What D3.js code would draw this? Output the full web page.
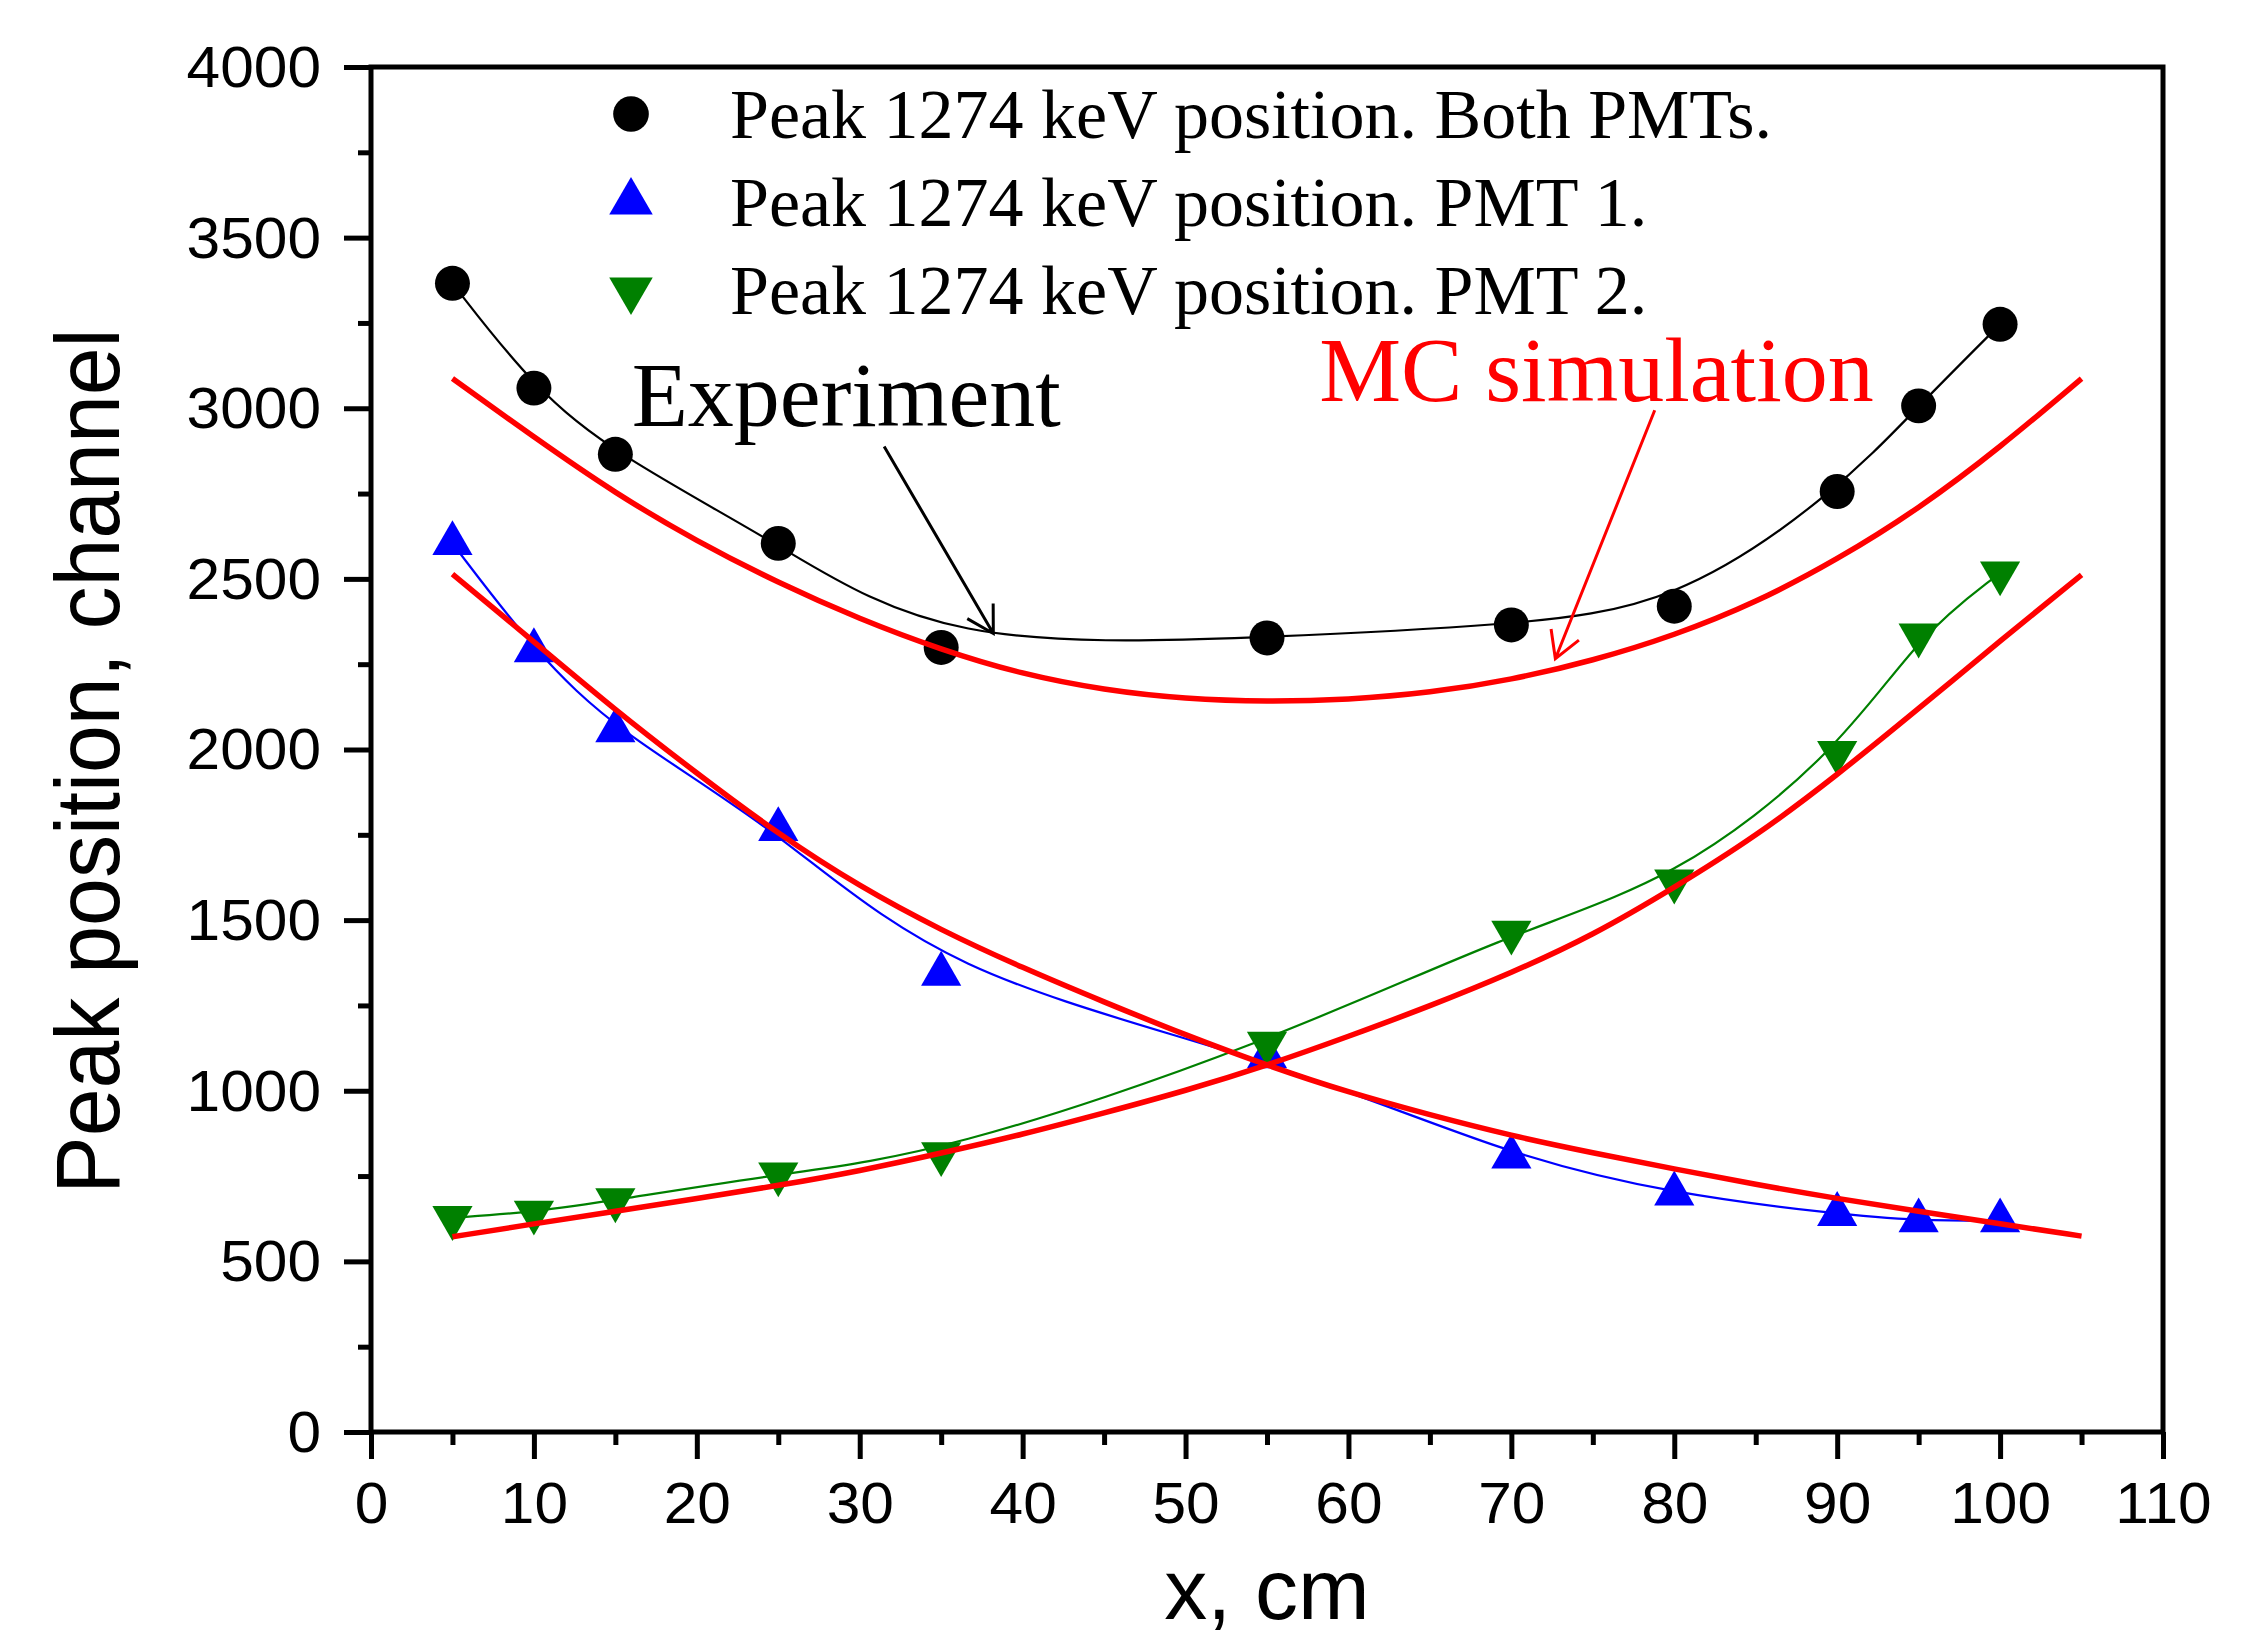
<!DOCTYPE html>
<html lang="en">
<head>
    <meta charset="UTF-8">
    <title>Peak 1274 keV position vs x</title>
    <script src="https://d3js.org/d3.v7.min.js"></script>
    <style>
        body { margin: 0; background: #fff; }
        svg { display: block; background: #fff; }
        .tick text { font-family: "Liberation Sans", Arial, sans-serif; font-size: 57px; fill: #000; }
        .tick line { stroke: #000; stroke-width: 5; }
        .title { font-family: "Liberation Sans", Arial, sans-serif; font-size: 86px; fill: #000; }
        .legend text { font-family: "Liberation Serif", "Times New Roman", serif; font-size: 70px; fill: #000; }
        .note { font-family: "Liberation Serif", "Times New Roman", serif; font-size: 92px; }
    </style>
</head>
<body>
<svg id="chart" width="2251" height="1640"></svg>
<script>
// measured positions, cm
const xPos = [5, 10, 15, 25, 35, 55, 70, 80, 90, 95, 100];
const bothPMTs = [3366, 3059, 2865, 2604, 2299, 2327, 2365, 2420, 2756, 3007, 3246];
const pmt1 = [2604, 2290, 2055, 1766, 1342, 1100, 806, 698, 638, 619, 619];
const pmt2 = [628, 644, 680, 756, 815, 1139, 1464, 1614, 1991, 2335, 2517];

// MC simulation curves
const mcX = [5, 10, 15, 20, 25, 30, 35, 40, 45, 50, 55, 60, 65, 70, 75, 80, 85, 90, 95, 100, 105];
const mcBoth = [3087, 2915, 2750, 2610, 2488, 2382, 2292, 2220, 2174, 2148, 2140, 2146, 2166, 2204, 2260, 2334, 2430, 2556, 2705, 2885, 3087];
const mcPmt1 = [2514, 2316, 2115, 1930, 1752, 1598, 1470, 1360, 1260, 1163, 1074, 995, 929, 868, 818, 771, 725, 684, 647, 610, 574];
const mcPmt2 = [572, 610, 647, 684, 722, 765, 817, 872, 935, 1000, 1074, 1159, 1248, 1345, 1455, 1595, 1745, 1925, 2120, 2318, 2512];

const xMajor = d3.range(0, 111, 10);
const xMinor = d3.range(5, 110, 10);
const yMajor = d3.range(0, 4001, 500);
const yMinor = d3.range(250, 4000, 500);

const legendLabels = [
    "Peak 1274 keV position. Both PMTs.",
    "Peak 1274 keV position. PMT 1.",
    "Peak 1274 keV position. PMT 2."
];

const width = 2251, height = 1640;
const margin = { top: 67, right: 88, bottom: 208, left: 371 };

const x = d3.scaleLinear().domain([0, 110]).range([margin.left, width - margin.right]);
const y = d3.scaleLinear().domain([0, 4000]).range([height - margin.bottom, margin.top]);

const svg = d3.select("#chart");

// glyphs in the original are a bit wider than normal
function stretch(sel, k) {
    sel.each(function () {
        const w = this.getComputedTextLength();
        this.setAttribute("textLength", w * k);
        this.setAttribute("lengthAdjust", "spacingAndGlyphs");
    });
}

// axes
const gx = svg.append("g")
    .attr("transform", `translate(0,${y(0)})`)
    .call(d3.axisBottom(x).tickValues(xMajor).tickFormat(d3.format("d"))
        .tickSizeInner(27).tickSizeOuter(0).tickPadding(24));
gx.select(".domain").remove();
svg.append("g")
    .attr("transform", `translate(0,${y(0)})`)
    .call(d3.axisBottom(x).tickValues(xMinor).tickSize(13).tickFormat(""))
    .select(".domain").remove();

const gy = svg.append("g")
    .attr("transform", `translate(${x(0)},0)`)
    .call(d3.axisLeft(y).tickValues(yMajor).tickFormat(d3.format("d"))
        .tickSizeInner(27).tickSizeOuter(0).tickPadding(23));
gy.select(".domain").remove();
gy.selectAll(".tick text").attr("dy", "0.34em");
svg.append("g")
    .attr("transform", `translate(${x(0)},0)`)
    .call(d3.axisLeft(y).tickValues(yMinor).tickSize(13).tickFormat(""))
    .select(".domain").remove();

stretch(gx.selectAll(".tick text"), 1.06);
stretch(gy.selectAll(".tick text"), 1.06);

svg.append("rect")
    .attr("x", x(0)).attr("y", y(4000))
    .attr("width", x(110) - x(0)).attr("height", y(0) - y(4000))
    .attr("fill", "none").attr("stroke", "#000").attr("stroke-width", 5);

// axis titles
svg.append("text").attr("class", "title")
    .attr("x", x(55)).attr("y", 1619)
    .attr("text-anchor", "middle")
    .text("x, cm");

svg.append("text").attr("class", "title")
    .attr("transform", "translate(119,761) scale(1.06,1) rotate(-90)")
    .attr("text-anchor", "middle")
    .text("Peak position, channel");

// experiment lines (B-spline connection)
const expLine = d3.line().x(d => x(d[0])).y(d => y(d[1])).curve(d3.curveBasis);
const series = [
    { vals: bothPMTs, color: "#000000", symbol: d3.symbolCircle, size: 960, rot: 0 },
    { vals: pmt1, color: "#0000ff", symbol: d3.symbolTriangle, size: 700, rot: 0 },
    { vals: pmt2, color: "#008000", symbol: d3.symbolTriangle, size: 700, rot: 180 }
];

series.forEach(s => {
    svg.append("path")
        .datum(xPos.map((xv, i) => [xv, s.vals[i]]))
        .attr("fill", "none")
        .attr("stroke", s.color)
        .attr("stroke-width", 2.2)
        .attr("d", expLine);
});

series.forEach(s => {
    svg.append("g").selectAll("path")
        .data(xPos.map((xv, i) => [xv, s.vals[i]]))
        .join("path")
        .attr("d", d3.symbol(s.symbol, s.size))
        .attr("transform", d => `translate(${x(d[0])},${y(d[1])}) rotate(${s.rot})`)
        .attr("fill", s.color);
});

// MC simulation curves
const mcLine = d3.line().x(d => x(d[0])).y(d => y(d[1])).curve(d3.curveBasis);
[mcBoth, mcPmt1, mcPmt2].forEach(vals => {
    svg.append("path")
        .datum(mcX.map((xv, i) => [xv, vals[i]]))
        .attr("fill", "none")
        .attr("stroke", "#ff0000")
        .attr("stroke-width", 5.5)
        .attr("d", mcLine);
});

// legend
const legend = svg.append("g").attr("class", "legend");
series.forEach((s, i) => {
    const by = 138 + i * 88;
    legend.append("path")
        .attr("d", d3.symbol(s.symbol, s.symbol === d3.symbolCircle ? 1000 : 820))
        .attr("transform", `translate(631,${by - 24}) rotate(${s.rot})`)
        .attr("fill", s.color);
    legend.append("text")
        .attr("x", 730).attr("y", by)
        .text(legendLabels[i]);
});

// annotations with open arrowheads
function arrow(from, to, color) {
    const x1 = x(from[0]), y1 = y(from[1]), x2 = x(to[0]), y2 = y(to[1]);
    const a = Math.atan2(y1 - y2, x1 - x2);
    const len = 30, spread = Math.PI / 6;
    const p = d3.path();
    p.moveTo(x1, y1); p.lineTo(x2, y2);
    p.moveTo(x2 + len * Math.cos(a - spread), y2 + len * Math.sin(a - spread));
    p.lineTo(x2, y2);
    p.lineTo(x2 + len * Math.cos(a + spread), y2 + len * Math.sin(a + spread));
    svg.append("path")
        .attr("d", p.toString())
        .attr("fill", "none")
        .attr("stroke", color)
        .attr("stroke-width", 3);
}

svg.append("text").attr("class", "note")
    .attr("x", x(16)).attr("y", y(2949))
    .attr("fill", "#000")
    .text("Experiment");
arrow([31.5, 2888], [38.2, 2340], "#000");

svg.append("text").attr("class", "note")
    .attr("x", x(58.2)).attr("y", y(3020))
    .attr("fill", "#ff0000")
    .text("MC simulation");
arrow([78.8, 2994], [72.7, 2266], "#ff0000");
</script>
</body>
</html>
